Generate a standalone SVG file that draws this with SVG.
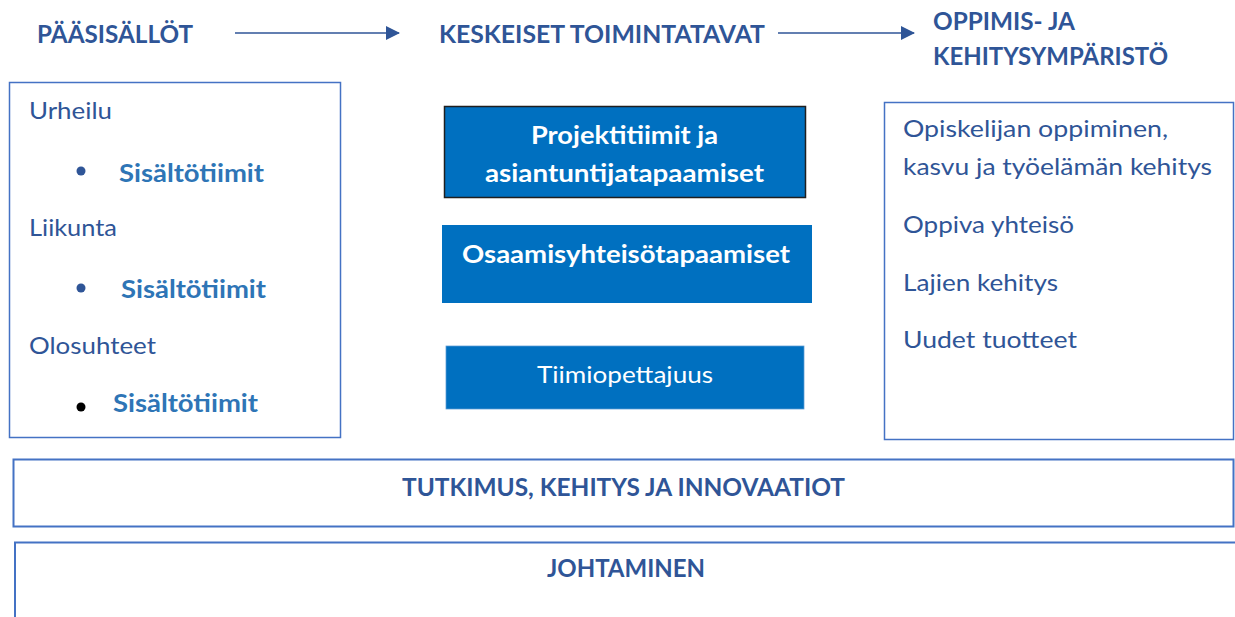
<svg xmlns="http://www.w3.org/2000/svg" width="1235" height="617" viewBox="0 0 1235 617">
  <style>
    text { font-family: Lato, "Open Sans", "Liberation Sans", sans-serif; font-size: 24px; }
    .hdr { font-weight: bold; fill: #2F5597; }
    .reg { fill: #2F5597; }
    .sub { font-weight: bold; fill: #2E75B6; }
    .wb { font-weight: bold; fill: #FFFFFF; }
    .wr { fill: #FFFFFF; }
    .frame { fill: #FFFFFF; stroke: #4472C4; stroke-width: 1.5; }
    .frame2 { fill: none; stroke: #4472C4; stroke-width: 2; }
    .blue { fill: #0070C0; }
    .conn { stroke: #2F5597; stroke-width: 1.5; fill: none; marker-end: url(#arrow); }
  </style>
  <defs>
    <marker id="arrow" viewBox="0 0 14 14" refX="13" refY="7" markerWidth="14" markerHeight="14" markerUnits="userSpaceOnUse" orient="auto">
      <path d="M0,0 L14,7 L0,14 Z" fill="#2F5597"/>
    </marker>
  </defs>
  <rect width="1235" height="617" fill="#FFFFFF"/>

  <g id="connectors">
    <line class="conn" x1="235" y1="33" x2="399" y2="33"/>
    <line class="conn" x1="778" y1="33" x2="914" y2="33"/>
  </g>

  <g id="header-paasisallot">
    <text class="hdr" x="37" y="43" textLength="156" lengthAdjust="spacingAndGlyphs">PÄÄSISÄLLÖT</text>
  </g>
  <g id="header-keskeiset">
    <text class="hdr" x="439" y="43" textLength="326" lengthAdjust="spacingAndGlyphs">KESKEISET TOIMINTATAVAT</text>
  </g>
  <g id="header-oppimis">
    <text class="hdr" x="933" y="30" textLength="142" lengthAdjust="spacingAndGlyphs">OPPIMIS- JA</text>
    <text class="hdr" x="933" y="65" textLength="235" lengthAdjust="spacingAndGlyphs">KEHITYSYMPÄRISTÖ</text>
  </g>

  <g id="paasisallot-box">
    <rect class="frame" x="9.5" y="82.5" width="331" height="355"/>
    <text class="reg" x="29" y="119" textLength="83" lengthAdjust="spacingAndGlyphs">Urheilu</text>
    <circle cx="81" cy="171" r="4.5" fill="#2F5597"/>
    <text class="sub" x="119" y="182" textLength="145" lengthAdjust="spacingAndGlyphs">Sisältötiimit</text>
    <text class="reg" x="29" y="236" textLength="88" lengthAdjust="spacingAndGlyphs">Liikunta</text>
    <circle cx="81" cy="288" r="4.5" fill="#2F5597"/>
    <text class="sub" x="121" y="298" textLength="145" lengthAdjust="spacingAndGlyphs">Sisältötiimit</text>
    <text class="reg" x="29" y="354" textLength="127" lengthAdjust="spacingAndGlyphs">Olosuhteet</text>
    <circle cx="81" cy="407" r="4.5" fill="#000000"/>
    <text class="sub" x="113" y="412" textLength="145" lengthAdjust="spacingAndGlyphs">Sisältötiimit</text>
  </g>

  <g id="projektitiimit">
    <rect class="blue" x="444.5" y="106.5" width="361" height="91" stroke="#1F1F1F" stroke-width="1.5"/>
    <text class="wb" x="531" y="144" textLength="187" lengthAdjust="spacingAndGlyphs">Projektitiimit ja</text>
    <text class="wb" x="485" y="182" textLength="279" lengthAdjust="spacingAndGlyphs">asiantuntijatapaamiset</text>
  </g>
  <g id="osaamisyhteiso">
    <rect class="blue" x="442" y="225" width="370" height="78"/>
    <text class="wb" x="462" y="263" textLength="328" lengthAdjust="spacingAndGlyphs">Osaamisyhteisötapaamiset</text>
  </g>
  <g id="tiimiopettajuus">
    <rect class="blue" x="446" y="346" width="358" height="63" stroke="#5B9BD5" stroke-width="0.75"/>
    <text class="wr" x="537" y="383" textLength="176" lengthAdjust="spacingAndGlyphs">Tiimiopettajuus</text>
  </g>

  <g id="oppimisymparisto-box">
    <rect class="frame" x="884.5" y="102.5" width="349" height="337"/>
    <text class="reg" x="903" y="137" textLength="265" lengthAdjust="spacingAndGlyphs">Opiskelijan oppiminen,</text>
    <text class="reg" x="903" y="175" textLength="309" lengthAdjust="spacingAndGlyphs">kasvu ja työelämän kehitys</text>
    <text class="reg" x="903" y="233" textLength="171" lengthAdjust="spacingAndGlyphs">Oppiva yhteisö</text>
    <text class="reg" x="903" y="291" textLength="155" lengthAdjust="spacingAndGlyphs">Lajien kehitys</text>
    <text class="reg" x="903" y="348" textLength="174" lengthAdjust="spacingAndGlyphs">Uudet tuotteet</text>
  </g>

  <g id="tutkimus">
    <rect class="frame2" x="13.5" y="459.5" width="1220" height="67" fill="#FFFFFF"/>
    <text class="hdr" x="402" y="496" textLength="443" lengthAdjust="spacingAndGlyphs">TUTKIMUS, KEHITYS JA INNOVAATIOT</text>
  </g>
  <g id="johtaminen">
    <path class="frame2" d="M15,617 V542.5 H1235"/>
    <text class="hdr" x="547" y="577" textLength="158" lengthAdjust="spacingAndGlyphs">JOHTAMINEN</text>
  </g>
</svg>
